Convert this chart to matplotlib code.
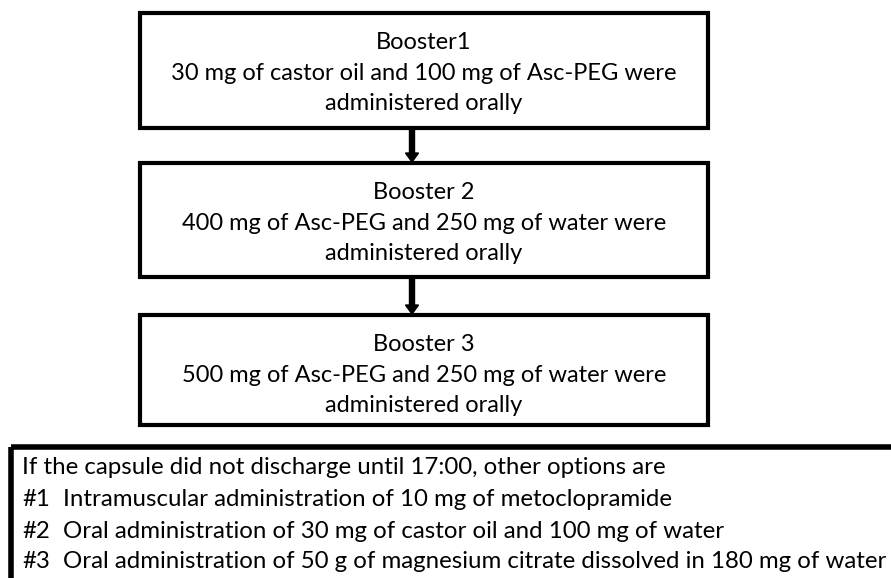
import matplotlib.pyplot as plt
from matplotlib.patches import Rectangle, FancyArrow

# === box contents ===
box_titles = ["Booster1", "Booster 2", "Booster 3"]
box_lines = [
    ["30 mg of castor oil and 100 mg of Asc-PEG were", "administered orally"],
    ["400 mg of Asc-PEG and 250 mg of water were", "administered orally"],
    ["500 mg of Asc-PEG and 250 mg of water were", "administered orally"],
]
note_head = "If the capsule did not discharge until 17:00, other options are"
note_nums = ["#1", "#2", "#3"]
note_items = [
    "Intramuscular administration of 10 mg of metoclopramide",
    "Oral administration of 30 mg of castor oil and 100 mg of water",
    "Oral administration of 50 g of magnesium citrate dissolved in 180 mg of water",
]

fig = plt.figure(figsize=(8.91, 5.78), dpi=100)
ax = fig.add_axes([0, 0, 1, 1])
ax.set_xlim(0, 891)
ax.set_ylim(578, 0)
ax.axis("off")

font = ["Lato", "DejaVu Sans"]

# box geometry (pixel coords)
box_x, box_w = 140, 568
box_tops = [13, 163, 315]
box_bots = [128, 277, 425]
arrow_x = 412

for i, top in enumerate(box_tops):
    ax.add_patch(Rectangle((box_x, top), box_w, box_bots[i] - top, fill=False, lw=3, ec="black"))
    cx = box_x + box_w / 2
    lines = [box_titles[i]] + box_lines[i]
    for j, s in enumerate(lines):
        ax.text(cx, top + 29.5 + j * 30.5, s, ha="center", va="center", fontsize=17, family=font)
    if i < len(box_tops) - 1:
        y0 = box_bots[i] + 2
        y1 = box_tops[i + 1] - 1
        ax.add_patch(FancyArrow(arrow_x, y0, 0, y1 - y0, width=5, head_width=13, head_length=9,
                                length_includes_head=True, color="black"))

# note box (runs off the right and bottom edge)
ax.add_patch(Rectangle((11, 447), 900, 160, fill=False, lw=4, ec="black"))
ax.text(22, 468, note_head, ha="left", va="center", fontsize=17.3, family=font)
for k, (n, s) in enumerate(zip(note_nums, note_items)):
    y = 500 + k * 31
    ax.text(22, y, n, ha="left", va="center", fontsize=17.3, family=font)
    ax.text(63, y, s, ha="left", va="center", fontsize=17.3, family=font)

plt.savefig("out.png", dpi=100)
